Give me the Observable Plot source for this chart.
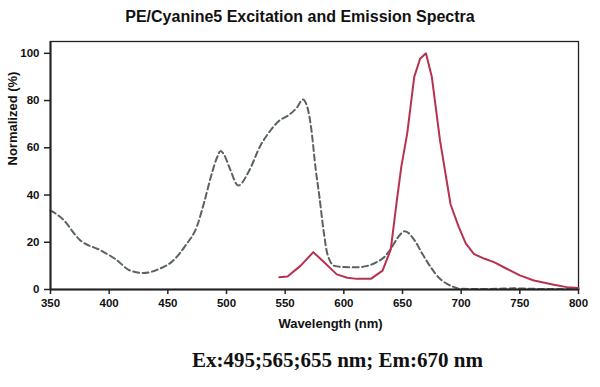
<!DOCTYPE html>
<html>
<head>
<meta charset="utf-8">
<script src="https://cdn.jsdelivr.net/npm/d3@7"></script>
<script src="https://cdn.jsdelivr.net/npm/@observablehq/plot@0.6"></script>
<style>
  html, body { margin: 0; padding: 0; background: #fff; }
  body { width: 600px; height: 387px; overflow: hidden; }
  #title { height: 30px; box-sizing: border-box; padding-top: 8px; line-height: 22px; text-align: center;
           font: bold 16px "Liberation Sans", Arial, sans-serif; color: #111; }
  #chart { height: 310px; }
  #chart svg { display: block; }
  #caption { height: 47px; box-sizing: border-box; padding-top: 8px; line-height: 39px; text-align: center; padding-left: 75px;
             font: bold 21px "Liberation Serif", "Times New Roman", serif; color: #111; }
</style>
</head>
<body>
<div id="title">PE/Cyanine5 Excitation and Emission Spectra</div>
<div id="chart"></div>
<div id="caption">Ex:495;565;655 nm; Em:670 nm</div>
<script>
const titleText = "PE/Cyanine5 Excitation and Emission Spectra";
const captionText = "Ex:495;565;655 nm; Em:670 nm";
const xLabel = "Wavelength (nm)";
const yLabel = "Normalized (%)";
const xTicks = [350, 400, 450, 500, 550, 600, 650, 700, 750, 800];
const yTicks = [0, 20, 40, 60, 80, 100];

// Excitation spectrum (dashed)
const exWavelength = [350, 360, 375, 393, 405, 418, 429, 444, 454, 465, 475, 481, 488, 492, 495, 498, 503, 510, 519, 529, 537, 545, 552, 560, 565, 569, 572, 576, 579, 583, 586, 592, 600, 611, 620, 628, 635, 640, 646, 652, 660, 667, 674, 681, 688, 694, 699, 710, 730, 745, 760, 780, 800];
const exValue      = [33.5, 30, 21, 16.5, 13, 8, 7, 9, 12, 18.6, 27, 37, 50, 56, 58.6, 57, 51, 44, 50, 61, 67, 71.5, 73.5, 77, 80.4, 77, 69, 51, 40, 24, 15, 10, 9.5, 9.4, 10, 11.6, 14, 17.2, 22, 24.7, 21, 15, 9.5, 5, 2.4, 1, 0.3, 0.2, 0.3, 0.5, 0.3, 0.2, 0.2];

// Emission spectrum (solid)
const emWavelength = [545, 552, 563, 574, 583, 594, 603, 611, 623, 633, 640, 645, 649, 654, 660, 665, 670, 675, 682, 691, 698, 704, 711, 720, 728, 738, 750, 762, 779, 790, 800];
const emValue      = [5.2, 5.5, 10, 15.8, 11.6, 6.4, 5, 4.5, 4.5, 8, 17, 37, 52, 66, 90, 97.7, 100, 90, 63, 36, 26.4, 19.4, 15, 13, 11.6, 9, 6, 3.8, 2, 1, 0.6];

const excitation = exWavelength.map((w, i) => ({w, v: exValue[i]}));
const emission = emWavelength.map((w, i) => ({w, v: emValue[i]}));

document.getElementById("title").textContent = titleText;
document.getElementById("caption").textContent = captionText;

const chart = Plot.plot({
  width: 600,
  height: 310,
  marginTop: 11,
  marginBottom: 51,
  marginLeft: 50,
  marginRight: 22,
  style: {fontFamily: "'Liberation Sans', Arial, sans-serif", fontWeight: "bold", fontSize: "11.5px", color: "#111", background: "#fff"},
  x: {domain: [350, 800]},
  y: {domain: [0, 105]},
  marks: [
    Plot.frame({stroke: "#222", strokeWidth: 1.3}),
    Plot.line(excitation, {x: "w", y: "v", stroke: "#5a6262", strokeWidth: 2, strokeDasharray: "6,3.5", curve: "monotone-x"}),
    Plot.line(emission, {x: "w", y: "v", stroke: "#b8324f", strokeWidth: 2}),
    Plot.ruleY([0], {stroke: "#222", strokeWidth: 2}),
    Plot.ruleX([350], {stroke: "#222", strokeWidth: 2}),
    Plot.axisX({ticks: xTicks, tickSize: 5, tickPadding: 4, tickFormat: d => String(d), label: null, stroke: "#222", strokeWidth: 1.5}),
    Plot.axisY({ticks: yTicks, tickSize: 6, tickPadding: 5, tickFormat: d => String(d), label: null, stroke: "#222", strokeWidth: 1.5}),
    Plot.text([xLabel], {frameAnchor: "bottom", dy: 34, dx: 16, lineAnchor: "middle", fontSize: 13, fontWeight: "bold", fill: "#111", text: d => d}),
    Plot.text([yLabel], {frameAnchor: "left", dx: -38, rotate: -90, lineAnchor: "middle", fontSize: 13, fontWeight: "bold", fill: "#111", text: d => d})
  ]
});
document.getElementById("chart").appendChild(chart);
</script>
</body>
</html>
